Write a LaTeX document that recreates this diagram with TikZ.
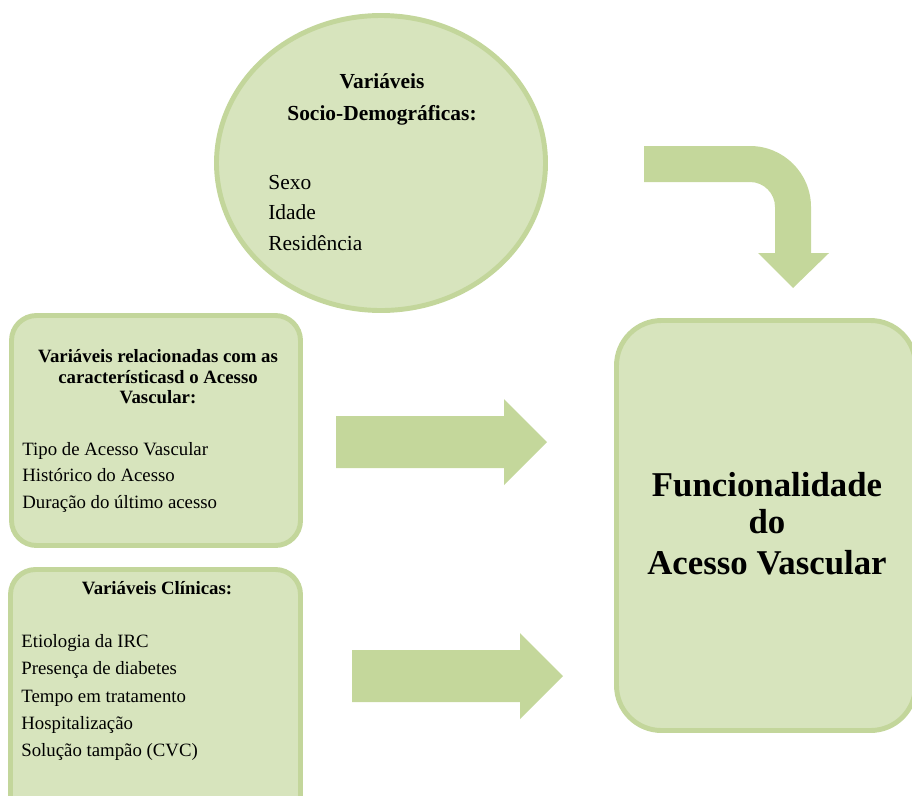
\documentclass[tikz,border=0pt]{standalone}
\usepackage{fontspec}
\setmainfont{Liberation Serif}
\usepackage{tikz}
\usetikzlibrary{shapes.geometric}

\definecolor{boxfill}{HTML}{D7E4BD}
\definecolor{boxline}{HTML}{C3D69B}
\definecolor{arrowfill}{HTML}{C4D79B}

\begin{document}
\begin{tikzpicture}[x=0.02cm, y=-0.02cm,
    shapebox/.style={draw=boxline, fill=boxfill, line width=2.8pt, inner sep=0pt},
    txt/.style={inner sep=0pt},
    arrowbody/.style={fill=arrowfill}]
    \useasboundingbox (0,0) rectangle (912,795);
    \clip (0,0) rectangle (912,795);

    % Shapes
    \node[shapebox, ellipse, minimum width=329*0.02cm, minimum height=295*0.02cm] (socio) at (381,163) {};
    \node[shapebox, rounded corners=0.5cm, minimum width=289*0.02cm, minimum height=230*0.02cm] (acesso) at (156,430.5) {};
    \node[shapebox, rounded corners=0.5cm, minimum width=290*0.02cm, minimum height=270*0.02cm] (clinicas) at (155.5,704.5) {};
    \node[shapebox, rounded corners=0.9cm, minimum width=299*0.02cm, minimum height=410*0.02cm] (funcional) at (766,525.5) {};

    % Texts
    \node[txt, font=\fontsize{12.2}{18.2}\selectfont\bfseries, align=center] (sociotitle) at (382,99) {Variáveis\\Socio-Demográficas:};
    \node[txt, font=\fontsize{12.2}{17.1}\selectfont, align=left, anchor=west] (sociolist) at (268,213) {Sexo\\Idade\\Residência};

    \node[txt, font=\fontsize{10.7}{11.7}\selectfont\bfseries, align=center] (acessotitle) at (158,377) {Variáveis relacionadas com as\\característicasd o Acesso\\Vascular:};
    \node[txt, font=\fontsize{10.7}{15.1}\selectfont, align=left, anchor=west] (acessolist) at (22,477) {Tipo de Acesso Vascular\\Histórico do Acesso\\Duração do último acesso};

    \node[txt, font=\fontsize{10.7}{12}\selectfont\bfseries] (clinicastitle) at (157,588) {Variáveis Clínicas:};
    \node[txt, font=\fontsize{10.7}{15.5}\selectfont, align=left, anchor=west] (clinicaslist) at (21,697.5) {Etiologia da IRC\\Presença de diabetes\\Tempo em tratamento\\Hospitalização\\Solução tampão (CVC)};

    \node[txt, font=\fontsize{19.8}{21}\selectfont\bfseries, align=center] (funcionaltitle) at (767,524) {Funcionalidade\\do\\[2.3pt]Acesso Vascular};

    % Block arrows
    \foreach \x/\y in {336/442, 352/676} {
        \fill[arrowbody] (\x,\y-26) -- ++(168,0) -- ++(0,-17) -- ++(43,43) -- ++(-43,43) -- ++(0,-17) -- ++(-168,0) -- cycle;
    }
    \fill[arrowbody] (644,146) -- (750,146) .. controls (783.7,146) and (811,173.3) .. (811,207)
        -- (811,253) -- (829,253) -- (793,288) -- (758,253) -- (775,253) -- (775,207)
        .. controls (775,193.2) and (763.8,182) .. (750,182) -- (644,182) -- cycle;
\end{tikzpicture}
\end{document}
